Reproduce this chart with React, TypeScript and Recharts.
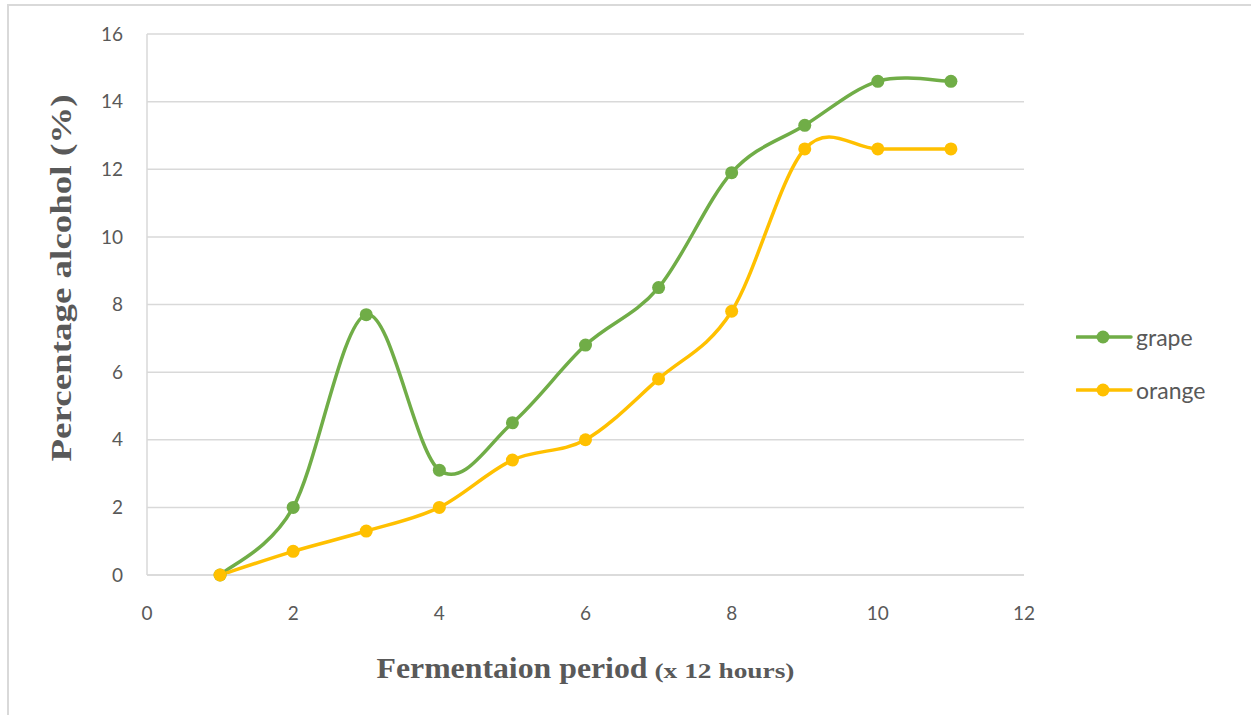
import { CartesianGrid, Label, Legend, Line, LineChart, XAxis, YAxis } from "recharts";

const periods = [1, 2, 3, 4, 5, 6, 7, 8, 9, 10, 11];
const grape = [0, 2, 7.7, 3.1, 4.5, 6.8, 8.5, 11.9, 13.3, 14.6, 14.6];
const orange = [0, 0.7, 1.3, 2, 3.4, 4, 5.8, 7.8, 12.6, 12.6, 12.6];
const xTicks = [0, 2, 4, 6, 8, 10, 12];
const yTicks = [0, 2, 4, 6, 8, 10, 12, 14, 16];

const data = periods.map((p, i) => ({ period: p, grape: grape[i], orange: orange[i] }));

const GREEN = "#70AD47";
const YELLOW = "#FFC000";
const GRID = "#D9D9D9";
const TEXT = "#595959";
const tickFont = "Lato, 'Open Sans', sans-serif";
const titleFont = "'Liberation Serif', 'Times New Roman', serif";

// excel style smoothed line (catmull-rom, 1/6 control points)
function excelCurve(context: any) {
    let pts: number[][] = [];
    return {
        areaStart() {},
        areaEnd() {},
        lineStart() { pts = []; },
        point(x: number, y: number) { pts.push([x, y]); },
        lineEnd() {
            if (!pts.length) return;
            context.moveTo(pts[0][0], pts[0][1]);
            for (let i = 0; i < pts.length - 1; i++) {
                const p0 = pts[i - 1] || pts[i];
                const p1 = pts[i];
                const p2 = pts[i + 1];
                const p3 = pts[i + 2] || p2;
                context.bezierCurveTo(
                    p1[0] + (p2[0] - p0[0]) / 6, p1[1] + (p2[1] - p0[1]) / 6,
                    p2[0] - (p3[0] - p1[0]) / 6, p2[1] - (p3[1] - p1[1]) / 6,
                    p2[0], p2[1]
                );
            }
        },
    };
}

function LegendContent({ payload }: any) {
    return (
        <div>
            {(payload || []).map((item: any) => (
                <div key={item.value} style={{ display: "flex", alignItems: "center", height: 53 }}>
                    <svg width={58} height={16}>
                        <line x1={1} y1={8} x2={55} y2={8} stroke={item.color} strokeWidth={3.5} strokeLinecap="round" />
                        <circle cx={27} cy={8} r={6.5} fill={item.color} />
                    </svg>
                    <span style={{ fontFamily: tickFont, fontSize: 23, color: TEXT, marginLeft: 2 }}>{item.value}</span>
                </div>
            ))}
        </div>
    );
}

function XTitle({ viewBox }: any) {
    const left = viewBox.x + viewBox.width / 2 - 209;
    return (
        <g fill={TEXT} fontFamily={titleFont} fontWeight="bold">
            <text x={left} y={678} fontSize={30} textLength={271} lengthAdjust="spacingAndGlyphs">Fermentaion period</text>
            <text x={left + 278} y={678} fontSize={22} textLength={140} lengthAdjust="spacingAndGlyphs">(x 12 hours)</text>
        </g>
    );
}

export default function App() {
    return (
        <div style={{ position: "absolute", left: 0, top: 0, width: 1251, height: 715, background: "#fff" }}>
            <div style={{ position: "absolute", left: 7, top: 4, right: 0, bottom: 0, borderLeft: `2px solid ${GRID}`, borderTop: `2px solid ${GRID}` }} />
            <LineChart width={1251} height={715} data={data} margin={{ top: 34, right: 227, bottom: 80, left: 0 }} style={{ position: "absolute", left: 0, top: 0 }}>
                <CartesianGrid vertical={false} stroke={GRID} strokeWidth={1.5} />
                <XAxis
                    dataKey="period"
                    type="number"
                    domain={[0, 12]}
                    ticks={xTicks}
                    height={60}
                    tickLine={false}
                    tickSize={0}
                    tickMargin={32}
                    axisLine={{ stroke: GRID, strokeWidth: 1.5 }}
                    tick={{ fill: TEXT, fontFamily: tickFont, fontSize: 19 }}
                >
                    <Label content={(props: any) => <XTitle {...props} />} />
                </XAxis>
                <YAxis
                    type="number"
                    domain={[0, 16]}
                    ticks={yTicks}
                    width={147}
                    tickLine={false}
                    tickSize={0}
                    tickMargin={24}
                    axisLine={{ stroke: GRID, strokeWidth: 1.5 }}
                    tick={{ fill: TEXT, fontFamily: tickFont, fontSize: 19 }}
                >
                    <Label
                        content={() => (
                            <text x={0} y={0} transform="translate(71 278) rotate(-90)" textAnchor="middle" fill={TEXT} fontFamily={titleFont} fontWeight="bold" fontSize={30} textLength={367} lengthAdjust="spacingAndGlyphs">
                                Percentage alcohol (%)
                            </text>
                        )}
                    />
                </YAxis>
                <Legend
                    layout="horizontal"
                    verticalAlign="middle"
                    align="center"
                    content={<LegendContent />}
                    wrapperStyle={{ left: 1076, top: 310, width: 170 }}
                />
                <Line
                    dataKey="grape"
                    name="grape"
                    type={excelCurve as any}
                    stroke={GREEN}
                    strokeWidth={3.5}
                    dot={{ r: 6.5, fill: GREEN, stroke: GREEN, strokeWidth: 0 }}
                    activeDot={false}
                    isAnimationActive={false}
                />
                <Line
                    dataKey="orange"
                    name="orange"
                    type={excelCurve as any}
                    stroke={YELLOW}
                    strokeWidth={3.5}
                    dot={{ r: 6.5, fill: YELLOW, stroke: YELLOW, strokeWidth: 0 }}
                    activeDot={false}
                    isAnimationActive={false}
                />
            </LineChart>
        </div>
    );
}
